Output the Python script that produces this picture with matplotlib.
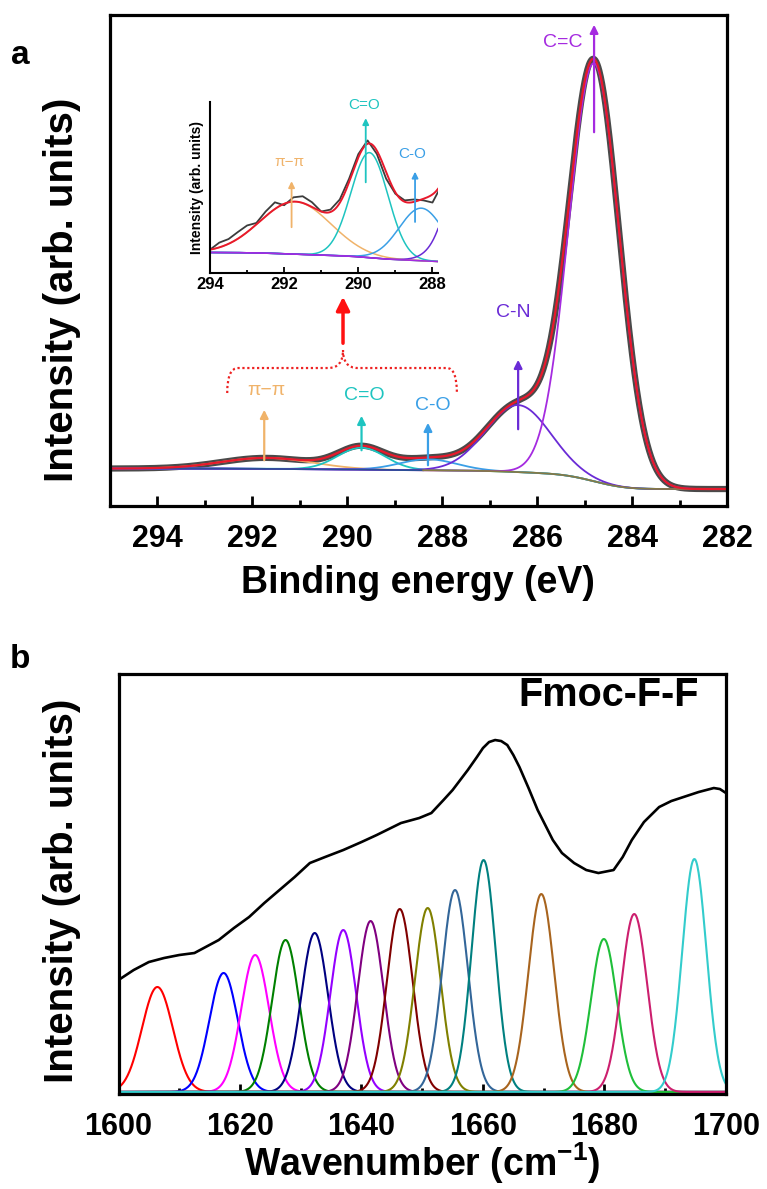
import math
import numpy as np
import matplotlib
matplotlib.use('Agg')
import matplotlib.pyplot as plt
from matplotlib.path import Path
from matplotlib.patches import PathPatch
from matplotlib.ticker import MultipleLocator

plt.rcParams['font.family'] = ['Liberation Sans', 'DejaVu Sans']
plt.rcParams['mathtext.fontset'] = 'custom'
plt.rcParams['mathtext.rm'] = 'Liberation Sans:bold'
plt.rcParams['mathtext.it'] = 'Liberation Sans:bold'
plt.rcParams['mathtext.bf'] = 'Liberation Sans:bold'

# ---- (a) XPS C 1s : fitted components
xps_names = ['π−π', 'C=O', 'C-O', 'C-N', 'C=C']
xps_center = [291.7, 289.7, 288.3, 286.4, 284.8]
xps_height = [11, 22, 11, 67, 418]
xps_sigma = [0.95, 0.50, 0.60, 0.68, 0.53]
xps_colors = ['#f0b36a', '#1ec4c0', '#3a9fe6', '#6a2bd6', '#a52be0']
bg_high, bg_low = 37.5, 17.0

# measured spectrum = fit + residual, sampled every 0.25 eV from 295 to 282
meas_resid = [0.3, -0.4, 0.5, -0.3, 0.0, 1.0, 1.0, 1.4, 1.4, 0.3,
              1.0, 1.4, -0.3, 0.9, 1.4, 1.0, 0.0, 0.5, 0.7, 0.7,
              0.7, 0.7, -0.7, -1.4, -0.3, 0.3, 0.5, -0.3, -1.7, -0.5,
              0.0, 0.0, 0.0, 0.0, 0.0, 0.0, 0.0, 0.0, 0.0, 0.0,
              0.0, 0.0, 0.0, 0.0, 0.0, 0.0, 0.0, 0.8, 0.5, -0.3,
              0.3, 0.0, 0.0]

# label / arrow positions (eV, intensity)
lab_x = [291.7, 289.65, 288.2, 286.5, 285.45]
lab_y = [116, 111, 101, 194, 463]
arr_x = [291.75, 289.7, 288.3, 286.4, 284.8]
arr_tail = [43, 53, 38, 74, 371]
arr_tip = [99, 93, 86, 149, 484]

# inset labels
ins_lab_x = [291.87, 289.85, 288.56]
ins_lab_y = [56.4, 68.4, 58.2]
ins_arr_x = [291.8, 289.8, 288.47]
ins_arr_tail = [42.2, 51.6, 43.3]
ins_arr_tip = [53.0, 66.2, 55.0]

# ---- (b) FTIR amide I
ir_x = [1600, 1602.5, 1605, 1607.5, 1610, 1612.5, 1616.5, 1619, 1621.5, 1624,
        1626.5, 1629, 1631.5, 1634, 1637, 1640, 1642.5, 1644.5, 1646.5, 1649.5,
        1651.5, 1653.5, 1655, 1657.5, 1659, 1660, 1661, 1662, 1663, 1664,
        1665, 1666, 1667.5, 1669, 1671.5, 1673, 1675, 1677, 1679, 1681.5,
        1683, 1684.5, 1686.5, 1689, 1691, 1693, 1695.5, 1698, 1699, 1700]
ir_y = [114, 124, 132, 136, 139, 141, 154, 166, 177, 191,
        204, 217, 231, 237, 244, 252, 259, 265, 271, 276,
        281, 294, 304, 324, 337, 346, 352, 354, 353, 349,
        339, 327, 306, 284, 254, 241, 231, 224, 221, 224,
        237, 254, 272, 287, 293, 297, 302, 306, 305, 301]
band_center = [1606.4, 1617.3, 1622.5, 1627.5, 1632.3, 1637.0, 1641.5, 1646.3,
               1650.9, 1655.4, 1660.1, 1669.6, 1679.9, 1684.9, 1694.8]
band_height = [107, 121, 139, 154, 161, 164, 173, 185,
               186, 204, 234, 200, 155, 180, 235]
band_fwhm = [6.0, 5.5, 5.4, 5.2, 5.2, 5.0, 5.0, 5.0,
             5.0, 5.0, 4.7, 5.0, 5.0, 5.0, 4.7]
band_colors = ['#ff0000', '#0000ff', '#ff00ff', '#008000', '#000080', '#9400ff',
               '#800080', '#800000', '#808000', '#336699', '#008080', '#a8641e',
               '#1fbf3a', '#cc1f6e', '#33cccc']


def gauss(x, c, h, s):
    return h * np.exp(-(x - c) ** 2 / (2 * s ** 2))


def xps_parts(x):
    comps = [gauss(x, c, h, s) for c, h, s in zip(xps_center, xps_height, xps_sigma)]
    erf = np.vectorize(math.erf)
    w = [h * s for h, s in zip(xps_height, xps_sigma)]
    frac = sum(wi * 0.5 * (1 + erf((x - c) / (s * math.sqrt(2))))
               for wi, c, s in zip(w, xps_center, xps_sigma)) / sum(w)
    bg = bg_low + (bg_high - bg_low) * frac
    return comps, bg


fig = plt.figure(figsize=(7.67, 11.89), dpi=100)

# ================= panel a
ax = fig.add_axes([0.1434, 0.5744, 0.8044, 0.4130])
x = np.linspace(295, 282, 1301)
comps, bg = xps_parts(x)
fit = bg + sum(comps)
mx = np.linspace(295, 282, len(meas_resid))
mc, mbg = xps_parts(mx)
meas = mbg + sum(mc) + np.array(meas_resid)

ax.plot(x, fit, color='#4a4a4a', lw=4.5, solid_capstyle='round')
for comp, col in zip(comps, xps_colors):
    ax.plot(x, bg + comp, color=col, lw=1.3)
left = x >= 288.4
ax.plot(x[left], bg[left], color='#2b4f96', lw=1.3)
ax.plot(x[x <= 288.4], bg[x <= 288.4], color='#857a45', lw=1.3)
ax.plot(x, fit, color='#e8192c', lw=1.6)

for i, name in enumerate(xps_names):
    col = xps_colors[i]
    ax.annotate('', xy=(arr_x[i], arr_tip[i]), xytext=(arr_x[i], arr_tail[i]),
                arrowprops=dict(arrowstyle='-|>', color=col, lw=1.6, mutation_scale=12))
    ax.text(lab_x[i], lab_y[i], name, color=col, fontsize=14, ha='center', va='center')

# dotted brace pointing at the inset
brace = Path([(292.53, 113), (292.53, 138), (292.3, 138), (290.4, 138),
              (290.09, 138), (290.09, 156), (290.09, 138), (289.78, 138),
              (287.9, 138), (287.69, 138), (287.69, 113)],
             [Path.MOVETO, Path.CURVE3, Path.CURVE3, Path.LINETO,
              Path.CURVE3, Path.CURVE3, Path.CURVE3, Path.CURVE3,
              Path.LINETO, Path.CURVE3, Path.CURVE3])
ax.add_patch(PathPatch(brace, fill=False, ec='#ee2222', lw=1.6, ls=(0, (1, 1.2))))
ax.annotate('', xy=(290.09, 212), xytext=(290.09, 160),
            arrowprops=dict(arrowstyle='-|>', color='#ff1010', lw=2.5, mutation_scale=20))

ax.set_xlim(295, 282)
ax.set_ylim(0, 491)
ax.set_yticks([])
ax.xaxis.set_major_locator(MultipleLocator(2))
ax.xaxis.set_minor_locator(MultipleLocator(1))
ax.tick_params(axis='x', which='both', direction='in', width=2, labelsize=22, pad=13)
ax.tick_params(axis='x', which='major', length=7)
ax.tick_params(axis='x', which='minor', length=4.5)
for t in ax.get_xticklabels():
    t.set_fontweight('bold')
for sp in ax.spines.values():
    sp.set_linewidth(2.3)

# inset
ins = fig.add_axes([0.2738, 0.7704, 0.2973, 0.1438])
xi = np.linspace(294, 287.85, 600)
ci, bgi = xps_parts(xi)
ins.plot(xi, bgi, color='#1f5f86', lw=1.1)
for comp, col in zip(ci, xps_colors):
    ins.plot(xi, bgi + comp, color=col, lw=1.1)
ins.plot(mx, meas, color='#3c3c3c', lw=1.3)
ins.plot(xi, bgi + sum(ci), color='#e8192c', lw=1.4)
for i in range(3):
    col = xps_colors[i]
    ins.annotate('', xy=(ins_arr_x[i], ins_arr_tip[i]), xytext=(ins_arr_x[i], ins_arr_tail[i]),
                 arrowprops=dict(arrowstyle='-|>', color=col, lw=1.3, mutation_scale=9))
    ins.text(ins_lab_x[i], ins_lab_y[i], xps_names[i], color=col, fontsize=11,
             ha='center', va='center')
ins.set_xlim(294, 287.85)
ins.set_ylim(33.2, 69)
ins.set_yticks([])
ins.xaxis.set_major_locator(MultipleLocator(2))
ins.xaxis.set_minor_locator(MultipleLocator(1))
ins.tick_params(axis='x', which='both', direction='in', width=1.3, labelsize=12, pad=3)
ins.tick_params(axis='x', which='major', length=4)
ins.tick_params(axis='x', which='minor', length=2.5)
for t in ins.get_xticklabels():
    t.set_fontweight('bold')
ins.spines['top'].set_visible(False)
ins.spines['right'].set_visible(False)
ins.spines['left'].set_linewidth(1.5)
ins.spines['bottom'].set_linewidth(1.5)
ins.set_ylabel('Intensity (arb. units)', fontsize=10, fontweight='bold', labelpad=4)

fig.text(20 / 767, 1 - 56 / 1189, 'a', fontsize=24, fontweight='bold', ha='center', va='center')
fig.text(62 / 767, 1 - 290 / 1189, 'Intensity (arb. units)', fontsize=29, fontweight='bold',
         rotation=90, ha='center', va='center')
fig.text(418 / 767, 1 - 583 / 1189, 'Binding energy (eV)', fontsize=27, fontweight='bold',
         ha='center', va='center')

# ================= panel b
bx = fig.add_axes([0.1545, 0.0799, 0.7920, 0.3532])
xb = np.linspace(1600, 1700, 1001)
for c, h, w, col in zip(band_center, band_height, band_fwhm, band_colors):
    bx.plot(xb, 2 + gauss(xb, c, h - 2, w / 2.3548), color=col, lw=1.5)
bx.plot(ir_x, ir_y, color='black', lw=1.9)
bx.text(0.955, 0.95, 'Fmoc-F-F', transform=bx.transAxes, fontsize=28.5, fontweight='bold',
        ha='right', va='center')
bx.set_xlim(1600, 1700)
bx.set_ylim(0, 420)
bx.set_yticks([])
bx.xaxis.set_major_locator(MultipleLocator(20))
bx.xaxis.set_minor_locator(MultipleLocator(10))
bx.tick_params(axis='x', which='both', direction='in', width=2, labelsize=22, pad=13)
bx.tick_params(axis='x', which='major', length=7)
bx.tick_params(axis='x', which='minor', length=4.5)
for t in bx.get_xticklabels():
    t.set_fontweight('bold')
for sp in bx.spines.values():
    sp.set_linewidth(2.3)

fig.text(20 / 767, 1 - 660 / 1189, 'b', fontsize=24, fontweight='bold', ha='center', va='center')
fig.text(62 / 767, 1 - 891 / 1189, 'Intensity (arb. units)', fontsize=29, fontweight='bold',
         rotation=90, ha='center', va='center')
fig.text(422 / 767, 1 - 1163 / 1189, 'Wavenumber (cm$^{-1}$)', fontsize=27, fontweight='bold',
         ha='center', va='center')

fig.savefig('out.png', dpi=100, facecolor='white')
